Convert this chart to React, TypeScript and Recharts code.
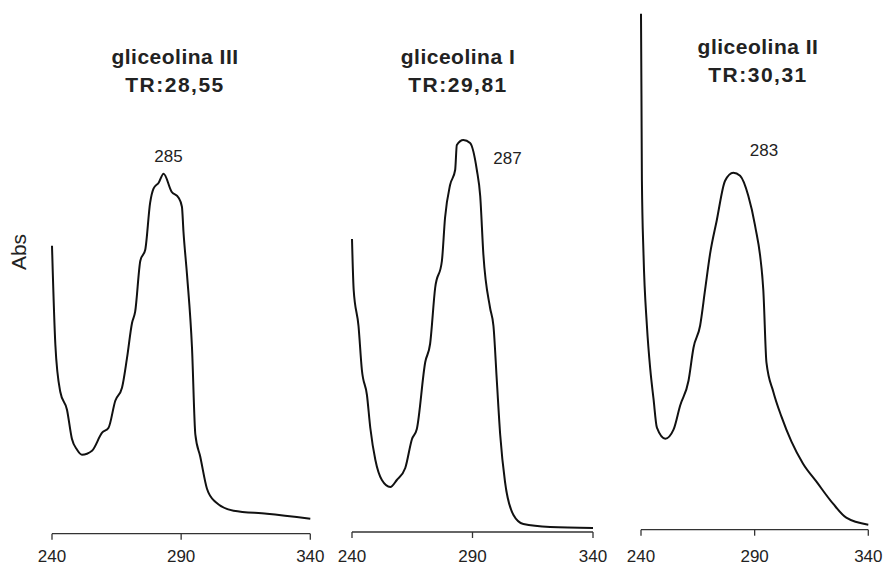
import React from "react";
import { LineChart, Line, XAxis, YAxis } from "recharts";

// gliceolina III
const wl1 = [240, 241.3, 243.2, 245.8, 247.7, 249.7, 251.6, 255.5, 259.4, 261.9, 264.5, 267.1, 269, 271, 272.2, 274.2, 276.1, 278, 279.3, 281.3, 283.2, 286.3, 289, 290.3, 290.9, 292.3, 294.2, 295.5, 297.4, 300, 303.2, 310.3, 323.2, 340];
const abs1 = [288, 189, 142, 124, 95, 84, 79, 83, 101, 106, 133, 146, 175, 211, 222, 273, 284, 331, 345, 351, 360, 342, 336, 327, 302, 258, 186, 99, 77, 45, 32, 23, 20, 15];

// gliceolina I
const wl2 = [240, 240.7, 242.7, 244.1, 246.2, 247.6, 249.7, 252.4, 255.9, 258.6, 262.1, 264.9, 266.9, 270.4, 272.4, 274.5, 277.3, 278.6, 280.7, 282.8, 283.5, 286.2, 289, 291.8, 293.2, 294.5, 297.3, 298.7, 300.1, 301.5, 303.5, 307, 311.1, 322.2, 340];
const abs2 = [293, 242, 206, 162, 137, 104, 72, 52, 45, 52, 64, 93, 103, 170, 188, 244, 271, 314, 347, 362, 387, 392, 389, 362, 336, 278, 224, 206, 151, 97, 50, 17, 8, 5, 4];

// gliceolina II
const wl3 = [240, 240.2, 240.4, 241.1, 242.6, 244.1, 245.5, 247, 250.7, 254.3, 257.2, 260.9, 263.1, 266, 268.2, 270.4, 273.3, 277, 280.6, 283.6, 287.2, 290.1, 293.8, 295.2, 298.2, 301.8, 306.2, 311.3, 317.2, 324.5, 330.3, 340];
const abs3 = [516, 435, 349, 276, 204, 160, 131, 102, 91, 100, 124, 149, 182, 204, 240, 276, 309, 349, 357, 354, 334, 305, 240, 167, 138, 113, 88, 66, 48, 26, 12, 5];

const titles = ["gliceolina III", "gliceolina I", "gliceolina II"];
const retention = ["TR:28,55", "TR:29,81", "TR:30,31"];
const peakNm = [285, 287, 283];
const xTicks = [240, 290, 340];

const H = 568;
const Y_MAX = 520;
const FONT = '"Liberation Sans", Arial, sans-serif';

const toData = (wl: number[], ab: number[]) => wl.map((w, i) => ({ wl: w, abs: ab[i] }));

// layout per panel: axis start/end x, axis y, title pos, peak label pos
const panels = [
  { data: toData(wl1, abs1), x0: 51.7, x1: 310, axisY: 533.7, titleX: 175, titleY: 64, trY: 92, peakX: 168.5, peakY: 162 },
  { data: toData(wl2, abs2), x0: 352, x1: 593, axisY: 532, titleX: 458, titleY: 64, trY: 92, peakX: 507.5, peakY: 164 },
  { data: toData(wl3, abs3), x0: 640.7, x1: 868, axisY: 529.7, titleX: 758, titleY: 54, trY: 82, peakX: 764, peakY: 156 },
];

const Spectrum = ({ p }: { p: (typeof panels)[number] }) => {
  const pad = 20;
  const w = p.x1 - p.x0 + pad * 2;
  // label baseline ~562 on every panel
  const tickMargin = 562 - p.axisY - 6 - 12;
  return (
    <div style={{ position: "absolute", left: p.x0 - pad, top: 0 }}>
      <LineChart width={w} height={H} data={p.data} margin={{ top: p.axisY - Y_MAX, right: pad, bottom: 0, left: pad }}>
        <XAxis
          dataKey="wl"
          type="number"
          domain={[240, 340]}
          ticks={xTicks}
          height={H - p.axisY}
          stroke="#333"
          strokeWidth={1.3}
          tickSize={6}
          tickMargin={tickMargin}
          tick={{ fontSize: 17, fill: "#222", fontFamily: FONT }}
        />
        <YAxis hide domain={[0, Y_MAX]} />
        <Line type="monotone" dataKey="abs" stroke="#111" strokeWidth={2} dot={false} isAnimationActive={false} />
      </LineChart>
    </div>
  );
};

export default function App() {
  return (
    <div style={{ position: "absolute", left: 0, top: 0, width: 887, height: H, background: "#fff" }}>
      {panels.map((p, i) => (
        <Spectrum key={i} p={p} />
      ))}
      <svg width={887} height={H} style={{ position: "absolute", left: 0, top: 0, pointerEvents: "none" }} fontFamily={FONT}>
        <text x={26} y={252} transform="rotate(-90 26 252)" textAnchor="middle" fontSize={21} fill="#222">
          Abs
        </text>
        {panels.map((p, i) => (
          <g key={i} fill="#222" textAnchor="middle">
            <text x={p.titleX} y={p.titleY} fontSize={21} fontWeight="bold" letterSpacing={0.5}>
              {titles[i]}
            </text>
            <text x={p.titleX} y={p.trY} fontSize={21} fontWeight="bold" letterSpacing={1.5}>
              {retention[i]}
            </text>
            <text x={p.peakX} y={p.peakY} fontSize={17}>
              {peakNm[i]}
            </text>
          </g>
        ))}
      </svg>
    </div>
  );
}
